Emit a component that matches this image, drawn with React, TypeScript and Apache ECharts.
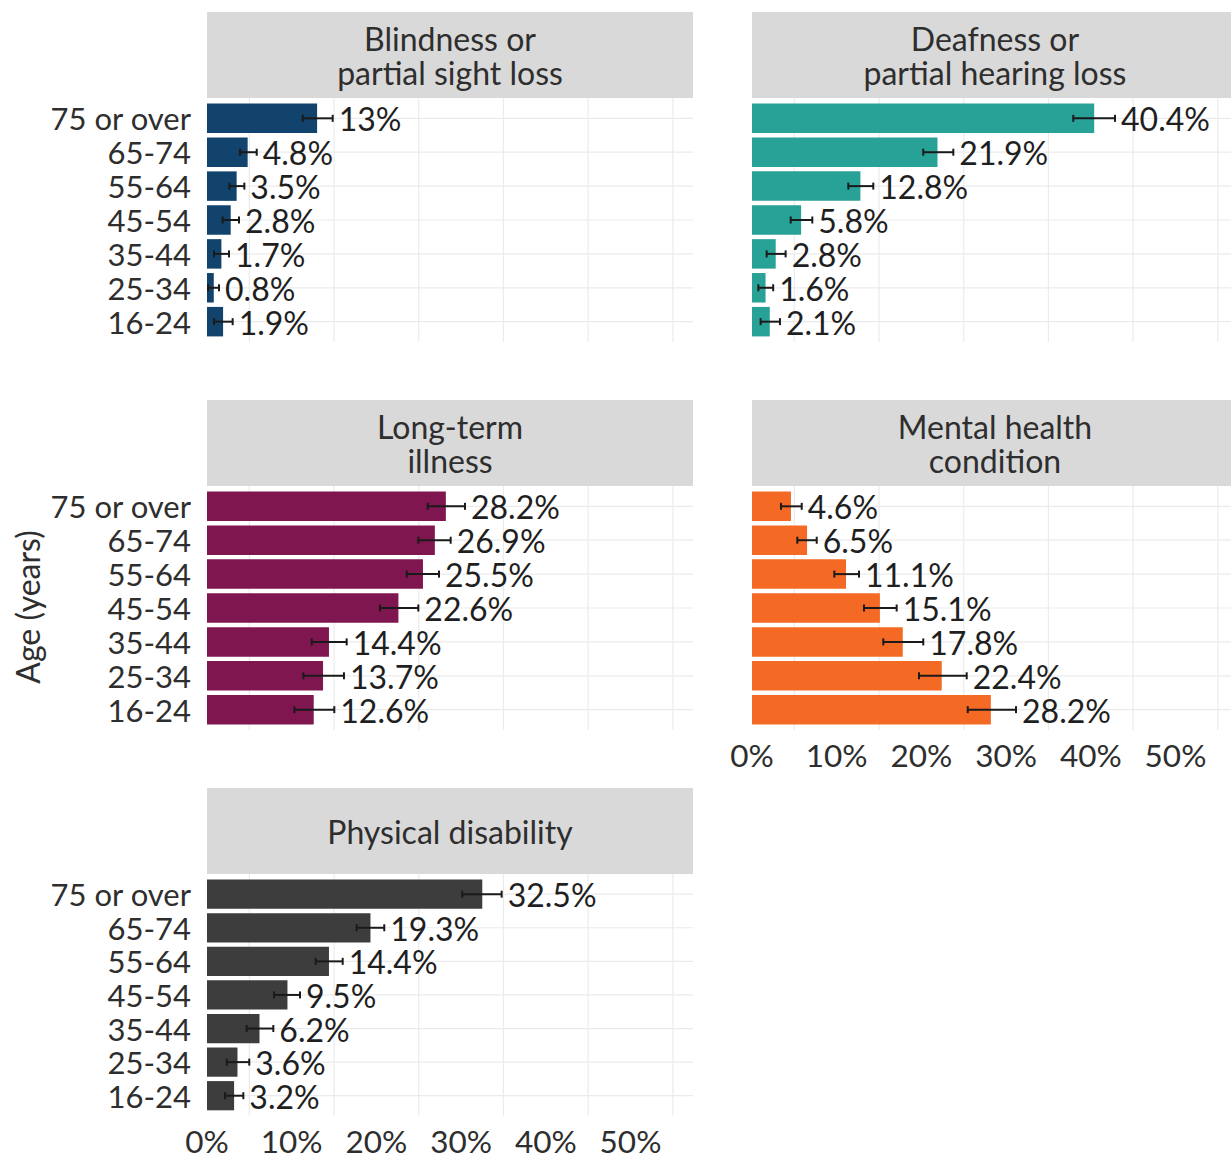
import React, { useEffect, useRef } from "react";
import * as echarts from "echarts";

// Age bands, youngest first (drawn bottom to top)
const ageGroups = ["16-24", "25-34", "35-44", "45-54", "55-64", "65-74", "75 or over"];

// Percentages with lower / upper confidence limits, ordered as ageGroups
const blindnessValues = [1.9, 0.8, 1.7, 2.8, 3.5, 4.8, 13];
const blindnessLower = [0.83, 0.12, 0.83, 1.85, 2.64, 3.9, 11.3];
const blindnessUpper = [3.03, 1.42, 2.6, 3.78, 4.41, 5.87, 14.84];

const deafnessValues = [2.1, 1.6, 2.8, 5.8, 12.8, 21.9, 40.4];
const deafnessLower = [1.02, 0.75, 1.73, 4.57, 11.37, 20.22, 37.93];
const deafnessUpper = [3.3, 2.5, 3.97, 7.12, 14.32, 23.77, 42.86];

const longTermValues = [12.6, 13.7, 14.4, 22.6, 25.5, 26.9, 28.2];
const longTermLower = [10.31, 11.37, 12.36, 20.43, 23.58, 24.95, 26.05];
const longTermUpper = [15.03, 16.17, 16.49, 24.95, 27.39, 28.77, 30.46];

const mentalValues = [28.2, 22.4, 17.8, 15.1, 11.1, 6.5, 4.6];
const mentalLower = [25.47, 19.72, 15.5, 13.22, 9.72, 5.35, 3.42];
const mentalUpper = [31.17, 25.35, 20.22, 17.08, 12.63, 7.64, 5.87];

const physicalValues = [3.2, 3.6, 6.2, 9.5, 14.4, 19.3, 32.5];
const physicalLower = [2.13, 2.33, 4.68, 7.91, 12.83, 17.67, 30.14];
const physicalUpper = [4.29, 4.99, 7.83, 10.98, 16.02, 20.93, 34.79];

// Axis breaks (percent)
const xBreaks = [0, 10, 20, 30, 40, 50];
const minorBreaks = [5, 15, 25, 35, 45, 55];
const X_MAX = 57.38;

const panelTitles = [
  "Blindness or\npartial sight loss",
  "Deafness or\npartial hearing loss",
  "Long-term\nillness",
  "Mental health\ncondition",
  "Physical disability",
];

// Layout (the right-hand column runs slightly past the visible frame)
const VIEW_W = 1231;
const VIEW_H = 1157;
const CANVAS_W = 1244;
const COL_LEFT = [207, 752];
const ROW_TOP = [12, 400, 788];
const PANEL_W = 486;
const STRIP_H = 86;
const PLOT_H = 244;
const BAND = PLOT_H / 7.2;
const FONT = "Lato, 'Noto Sans', sans-serif";
const FONT_SIZE = 31.5;
const GRID_COLOR = "#EBEBEB";
const TEXT_COLOR = "#2E2E2E";

const panels = [
  { title: panelTitles[0], values: blindnessValues, lower: blindnessLower, upper: blindnessUpper, color: "#12436D", col: 0, row: 0, showY: true, showX: false },
  { title: panelTitles[1], values: deafnessValues, lower: deafnessLower, upper: deafnessUpper, color: "#28A197", col: 1, row: 0, showY: false, showX: false },
  { title: panelTitles[2], values: longTermValues, lower: longTermLower, upper: longTermUpper, color: "#801650", col: 0, row: 1, showY: true, showX: false },
  { title: panelTitles[3], values: mentalValues, lower: mentalLower, upper: mentalUpper, color: "#F46A25", col: 1, row: 1, showY: false, showX: true },
  { title: panelTitles[4], values: physicalValues, lower: physicalLower, upper: physicalUpper, color: "#3D3D3D", col: 0, row: 2, showY: true, showX: true },
];

function buildOption() {
  const grid: any[] = [];
  const xAxis: any[] = [];
  const yAxis: any[] = [];
  const series: any[] = [];
  const graphic: any[] = [];

  panels.forEach((p, i) => {
    const left = COL_LEFT[p.col];
    const stripTop = ROW_TOP[p.row];
    const plotTop = stripTop + STRIP_H;

    grid.push({
      left,
      top: plotTop + 0.1 * BAND,
      width: PANEL_W,
      height: 7 * BAND,
      containLabel: false,
    });

    xAxis.push({
      type: "value",
      gridIndex: i,
      min: 0,
      max: X_MAX,
      interval: 10,
      axisLine: { show: false },
      axisTick: { show: false },
      splitLine: { show: false },
      axisLabel: {
        show: p.showX,
        margin: 16,
        fontSize: FONT_SIZE,
        lineHeight: 25,
        fontFamily: FONT,
        color: TEXT_COLOR,
        showMaxLabel: false,
        formatter: (v: number) => (xBreaks.includes(v) ? `${v}%` : ""),
      },
    });

    yAxis.push({
      type: "category",
      gridIndex: i,
      data: ageGroups,
      axisLine: { show: false },
      axisTick: { show: false },
      splitLine: { show: false },
      axisLabel: {
        show: p.showY,
        interval: 0,
        margin: 16,
        fontSize: 31,
        lineHeight: 30,
        fontFamily: FONT,
        color: TEXT_COLOR,
      },
    });

    // horizontal gridlines through each category
    series.push({
      type: "custom",
      xAxisIndex: i,
      yAxisIndex: i,
      silent: true,
      z: 1,
      encode: { x: 0, y: 1 },
      data: ageGroups.map((_, k) => [0, k]),
      renderItem: (_params: any, api: any) => {
        const k = api.value(1);
        const a = api.coord([0, k]);
        const b = api.coord([X_MAX, k]);
        return {
          type: "line",
          shape: { x1: a[0], y1: a[1], x2: b[0], y2: b[1] },
          style: { stroke: GRID_COLOR, lineWidth: 1.2 },
        };
      },
    });

    // vertical gridlines at the minor breaks, spanning the full panel
    series.push({
      type: "custom",
      xAxisIndex: i,
      yAxisIndex: i,
      silent: true,
      z: 1,
      encode: { x: 0, y: 1 },
      data: minorBreaks.map((b) => [b, 0]),
      renderItem: (_params: any, api: any) => {
        const x = api.value(0);
        const band = api.size([0, 1])[1];
        const bottom = api.coord([x, 0])[1] + 0.6 * band;
        const top = api.coord([x, ageGroups.length - 1])[1] - 0.6 * band;
        const px = api.coord([x, 0])[0];
        return {
          type: "line",
          shape: { x1: px, y1: top, x2: px, y2: bottom },
          style: { stroke: GRID_COLOR, lineWidth: 1.2 },
        };
      },
    });

    series.push({
      type: "bar",
      xAxisIndex: i,
      yAxisIndex: i,
      data: p.values,
      barCategoryGap: "13%",
      itemStyle: { color: p.color },
      silent: true,
      z: 2,
    });

    // confidence intervals and value labels
    series.push({
      type: "custom",
      xAxisIndex: i,
      yAxisIndex: i,
      silent: true,
      z: 3,
      encode: { x: [0, 1], y: 2 },
      data: p.values.map((v, k) => [p.lower[k], p.upper[k], k, v]),
      renderItem: (_params: any, api: any) => {
        const lo = api.value(0);
        const hi = api.value(1);
        const k = api.value(2);
        const v = api.value(3);
        const a = api.coord([lo, k]);
        const b = api.coord([hi, k]);
        const cap = 3.5;
        const ls = { stroke: "#1A1A1A", lineWidth: 2 };
        return {
          type: "group",
          children: [
            { type: "line", shape: { x1: a[0], y1: a[1], x2: b[0], y2: b[1] }, style: ls },
            { type: "line", shape: { x1: a[0], y1: a[1] - cap, x2: a[0], y2: a[1] + cap }, style: ls },
            { type: "line", shape: { x1: b[0], y1: b[1] - cap, x2: b[0], y2: b[1] + cap }, style: ls },
            {
              type: "text",
              x: b[0] + 6,
              y: b[1] + 0.5,
              style: {
                text: `${v}%`,
                fontSize: 32,
                lineHeight: 30,
                fontFamily: FONT,
                fill: "#1F1F1F",
                align: "left",
                verticalAlign: "middle",
              },
            },
          ],
        };
      },
    });

    // facet strip
    graphic.push({
      type: "rect",
      shape: { x: left, y: stripTop, width: PANEL_W, height: STRIP_H },
      style: { fill: "#D9D9D9" },
      silent: true,
    });
    graphic.push({
      type: "text",
      x: left + PANEL_W / 2,
      y: stripTop + STRIP_H / 2,
      style: {
        text: p.title,
        fontSize: 32,
        lineHeight: 34,
        fontFamily: FONT,
        fill: TEXT_COLOR,
        align: "center",
        verticalAlign: "middle",
      },
      silent: true,
    });
  });

  graphic.push({
    type: "text",
    x: 27,
    y: 607,
    rotation: Math.PI / 2,
    style: {
      text: "Age (years)",
      fontSize: 32,
      fontFamily: FONT,
      fill: TEXT_COLOR,
      align: "center",
      verticalAlign: "middle",
    },
    silent: true,
  });

  return {
    animation: false,
    backgroundColor: "#FFFFFF",
    textStyle: { fontFamily: FONT },
    grid,
    xAxis,
    yAxis,
    series,
    graphic,
  };
}

export default function App() {
  const ref = useRef<HTMLDivElement>(null);

  useEffect(() => {
    if (!ref.current) return;
    const chart = echarts.init(ref.current, undefined, { renderer: "svg" });
    chart.setOption(buildOption() as any);
    return () => chart.dispose();
  }, []);

  return (
    <div
      style={{
        position: "absolute",
        left: 0,
        top: 0,
        width: VIEW_W,
        height: VIEW_H,
        overflow: "hidden",
        background: "#FFFFFF",
      }}
    >
      <div ref={ref} style={{ width: CANVAS_W, height: VIEW_H }} />
    </div>
  );
}
